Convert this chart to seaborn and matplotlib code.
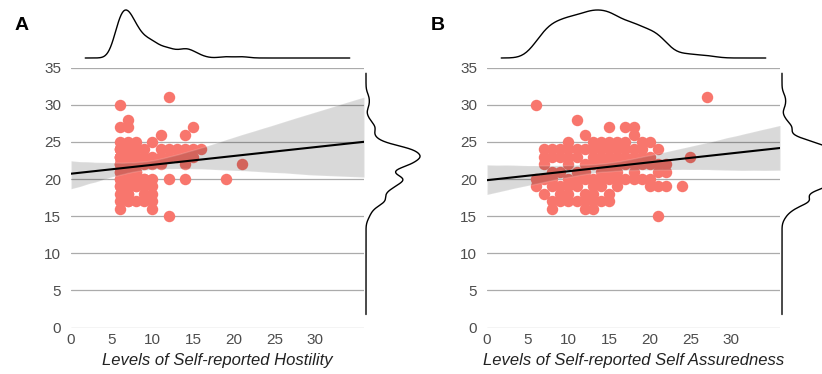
import numpy as np
import pandas as pd
import matplotlib
matplotlib.use("Agg")
import matplotlib.pyplot as plt
import seaborn as sns

# Panel A: outcome scores listed for each self-reported hostility level
hostility_levels = [6, 7, 8, 9, 10, 11, 12, 13, 14, 15, 16, 19, 21]
hostility_scores = [
    [16, 17, 18, 19, 19, 20, 20, 21, 21, 22, 22, 22, 23, 23, 23, 23, 24, 24, 24, 25, 27, 30],
    [17, 17, 18, 18, 19, 19, 20, 20, 21, 21, 22, 22, 22, 23, 23, 23, 24, 24, 24, 25, 27, 28],
    [17, 19, 19, 20, 20, 21, 21, 22, 22, 23, 23, 24, 25],
    [17, 18, 19, 20, 20, 22, 23, 24],
    [16, 17, 18, 19, 20, 22, 23, 25],
    [22, 23, 24, 26],
    [15, 20, 23, 24, 31],
    [23, 24],
    [20, 22, 23, 24, 26],
    [23, 24, 27],
    [24],
    [20],
    [22],
]

# Panel B: outcome scores listed for each self-reported self assuredness level
assured_levels = [6, 7, 8, 9, 10, 11, 12, 13, 14, 15, 16, 17, 18, 19, 20, 21, 22, 24, 25, 27]
assured_scores = [
    [19, 20, 30],
    [18, 20, 22, 23, 24],
    [16, 17, 19, 20, 21, 23, 24],
    [17, 18, 19, 21, 23, 24],
    [17, 18, 19, 20, 22, 23, 24, 25],
    [17, 19, 20, 21, 23, 24, 28],
    [16, 17, 18, 20, 21, 22, 24, 26],
    [16, 17, 18, 19, 20, 22, 23, 24, 25],
    [17, 19, 20, 21, 22, 23, 24, 25],
    [17, 18, 20, 21, 22, 23, 24, 25, 27],
    [19, 20, 21, 22, 23, 24, 25],
    [20, 22, 23, 24, 25, 27],
    [20, 21, 22, 23, 24, 26, 27],
    [20, 22, 23, 24, 25],
    [19, 20, 22, 23, 25],
    [15, 19, 21, 22, 24],
    [19, 21, 22],
    [19],
    [23],
    [31],
]

x_ticks = [0, 5, 10, 15, 20, 25, 30]
y_ticks = [0, 5, 10, 15, 20, 25, 30, 35]
panel_tags = ["A", "B"]
x_titles = ["Levels of Self-reported Hostility", "Levels of Self-reported Self Assuredness"]


def long_table(levels, scores):
    xs = [lv for lv, col in zip(levels, scores) for _ in col]
    ys = [v for col in scores for v in col]
    return pd.DataFrame({"level": xs, "score": ys})


sns.set_style("white")
plt.rcParams["font.family"] = ["Liberation Sans", "DejaVu Sans"]

W, H = 822, 374
fig = plt.figure(figsize=(W / 100, H / 100), dpi=100)


def px_axes(left, top, right, bottom):
    return fig.add_axes([left / W, 1 - bottom / H, (right - left) / W, (bottom - top) / H])


POINT = "#F8766D"
TOP, BOTTOM = 67.7, 327.5
X_MAX, Y_MAX = 36, 35
CLIP = (1.75, 34.25)


def draw_panel(x0, df, tag, title):
    ax = px_axes(x0, TOP, x0 + 293, BOTTOM)
    ax.set_xlim(0, X_MAX)
    ax.set_ylim(0, Y_MAX)
    ax.set_xticks(x_ticks)
    ax.set_yticks(y_ticks)
    ax.grid(axis="y", color="#ABABAB", lw=0.9)
    ax.grid(axis="x", visible=False)
    ax.set_axisbelow(True)
    for s in ax.spines.values():
        s.set_visible(False)
    ax.tick_params(axis="both", length=0, labelsize=11, labelcolor="#4D4D4D")
    ax.tick_params(axis="y", pad=7)
    ax.tick_params(axis="x", pad=4)

    sns.regplot(data=df, x="level", y="score", ax=ax, truncate=False, seed=7,
                scatter_kws=dict(s=68, color=POINT, linewidths=0, alpha=1),
                line_kws=dict(color="black", lw=1.5))
    ax.set_ylabel("")
    ax.set_xlabel(title, style="italic", fontsize=12, color="#222222")
    ax.xaxis.set_label_coords(0.5, (BOTTOM - 361) / (BOTTOM - TOP))
    ax.xaxis.label.set_va("center")

    # marginal density along x
    axt = px_axes(x0, 10, x0 + 293, 58)
    sns.kdeplot(x=df["level"], ax=axt, color="black", lw=1.0, bw_adjust=0.65,
                cut=30, clip=CLIP)
    peak = max(l.get_ydata().max() for l in axt.get_lines())
    axt.set_xlim(0, X_MAX)
    axt.set_ylim(0, peak)
    axt.axis("off")
    for l in axt.get_lines():
        l.set_clip_on(False)

    # marginal density along y
    axr = px_axes(x0 + 295, TOP, x0 + 349, BOTTOM)
    sns.kdeplot(y=df["score"], ax=axr, color="black", lw=1.0, bw_adjust=0.5,
                cut=30, clip=CLIP)
    peak = max(l.get_xdata().max() for l in axr.get_lines())
    axr.set_ylim(0, Y_MAX)
    axr.set_xlim(0, peak)
    axr.axis("off")
    for l in axr.get_lines():
        l.set_clip_on(False)

    fig.text((x0 - 49) / W, 1 - 25 / H, tag, fontsize=14, fontweight="bold",
             ha="center", va="center", color="black")


draw_panel(71, long_table(hostility_levels, hostility_scores), panel_tags[0], x_titles[0])
draw_panel(487, long_table(assured_levels, assured_scores), panel_tags[1], x_titles[1])

fig.savefig("out.png", dpi=100)
